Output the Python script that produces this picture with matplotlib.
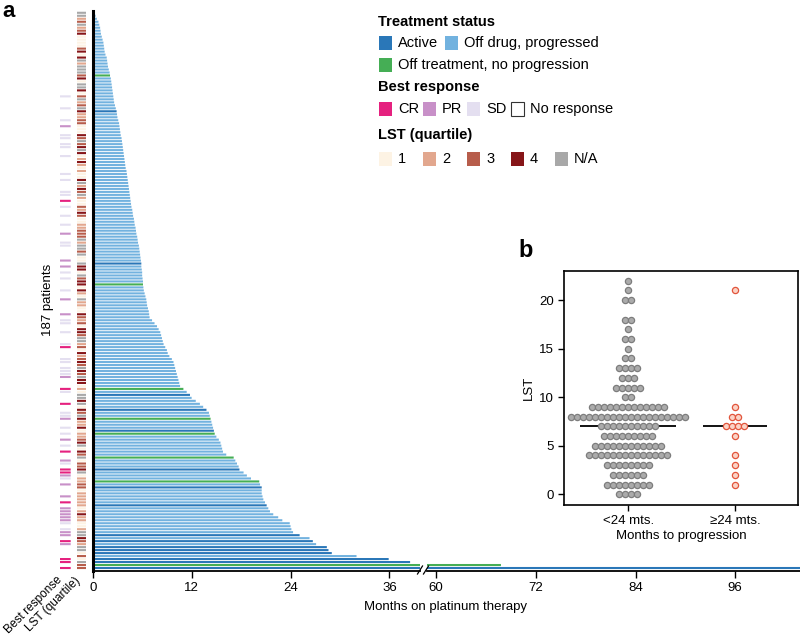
import numpy as np
import matplotlib
matplotlib.use("Agg")
from matplotlib import pyplot as plt
from matplotlib.patches import Rectangle
from matplotlib.lines import Line2D

plt.rcParams['font.family'] = ['Liberation Sans', 'DejaVu Sans']

# ---- panel a data: months on platinum therapy, one per patient (top -> bottom)
months = [
    0.2, 0.35, 0.5, 0.7, 0.8, 0.9, 0.95, 1.0, 1.1, 1.2,
    1.3, 1.35, 1.4, 1.45, 1.55, 1.7, 1.75, 1.8, 1.85, 1.95,
    2.05, 2.1, 2.2, 2.25, 2.3, 2.35, 2.4, 2.45, 2.5, 2.55,
    2.6, 2.7, 2.8, 2.9, 2.95, 3.0, 3.1, 3.2, 3.25, 3.3,
    3.35, 3.4, 3.5, 3.55, 3.6, 3.65, 3.7, 3.75, 3.8, 3.85,
    3.9, 3.95, 4.0, 4.1, 4.15, 4.2, 4.25, 4.3, 4.35, 4.4,
    4.45, 4.5, 4.55, 4.6, 4.65, 4.7, 4.8, 4.85, 4.9, 5.0,
    5.05, 5.1, 5.2, 5.25, 5.3, 5.4, 5.45, 5.5, 5.6, 5.65,
    5.7, 5.75, 5.8, 5.85, 5.9, 5.9, 5.95, 6.0, 6.0, 6.05,
    6.1, 6.1, 6.15, 6.2, 6.3, 6.4, 6.5, 6.55, 6.6, 6.7,
    6.8, 6.85, 6.9, 7.2, 7.5, 7.8, 8.0, 8.2, 8.3, 8.4,
    8.5, 8.6, 8.8, 9.0, 9.1, 9.3, 9.6, 9.8, 9.9, 10.0,
    10.1, 10.2, 10.3, 10.4, 10.5, 10.6, 11.0, 11.4, 11.8, 12.0,
    12.5, 13.0, 13.4, 13.8, 14.1, 14.2, 14.3, 14.4, 14.5, 14.6,
    14.7, 14.8, 15.0, 15.3, 15.5, 15.6, 15.7, 15.8, 16.2, 17.1,
    17.3, 17.5, 17.7, 17.8, 18.3, 18.7, 19.2, 20.2, 20.3, 20.5,
    20.5, 20.5, 20.6, 20.7, 20.9, 21.1, 21.3, 21.5, 21.9, 22.5,
    23.0, 23.9, 24.0, 24.1, 24.3, 25.1, 26.3, 26.7, 27.1, 28.4,
    28.6, 29.0, 32.0, 35.9, 38.5, 67.8, 110.0,
]
# treatment status by row: everyone else is "off drug, progressed"
active_rows = [33, 84, 128, 133, 140, 153, 159, 165, 175, 177, 179, 180, 181, 183, 184, 186]
no_prog_rows = [21, 91, 126, 136, 141, 149, 157, 185]

# best response: C = CR, P = PR, S = SD, - = no response
best = ("----------" "----------" "--------S-" "--S---S-P-" "-SS-SS--S-"
        "----S-S---" "SS-C-S--S-" "-S--P--SS-" "---P-P-S-S" "---S--P---"
        "-P-SS--S--" "-SC---SS-S" "SSP---CS--" "-C--SSP--S" "-S-P-S-C--"
        "PS-CCPS-P-" "--P-C-PPPP" "PS-SPP-CP-" "---CC-C")
# LST quartile: 1-4, n = N/A
lst_q = ("nn23n23411" "113414n2nn" "n341nn413n" "23n4223311" "143n34n412"
         "4212114n24" "3n21132431" "122333n2nn" "3n11n441n3" "441421n221"
         "143231443n" "n23142343n" "43n44121nn" "4n143n4224" "12234n143n"
         "1334n12233" "1222221242" "2112nn432n" "n131n33")

# ---- panel b data: LST score by months to progression
lst_levels = list(range(23))
count_lt24 = [4, 8, 6, 8, 14, 12, 9, 10, 20, 13, 2, 5, 3, 4, 2, 1, 2, 1, 2, 0, 2, 1, 1]
count_ge24 = [0, 1, 1, 1, 1, 0, 1, 4, 2, 1, 0, 0, 0, 0, 0, 0, 0, 0, 0, 0, 0, 1, 0]
groups = ["<24 mts.", "\u226524 mts."]

status_col = {'o': '#72b2df', 'a': '#2a77b8', 'g': '#45ae55'}
best_col = {'C': '#e5217f', 'P': '#c890c8', 'S': '#e4dff0', '-': 'none'}
lst_col = {'1': '#fdf3e4', '2': '#e2a78e', '3': '#b75d4b', '4': '#861518', 'n': '#a8a8a8'}

n = len(months)
status = ['o'] * n
for i in active_rows:
    status[i] = 'a'
for i in no_prog_rows:
    status[i] = 'g'

W, H = 800, 638
fig = plt.figure(figsize=(W / 100, H / 100), dpi=100)

ypos = np.arange(n)
ylim = (186.9, -0.7)
bot, hgt = 1 - 570.7 / H, 560 / H
bh = 0.7

axL = fig.add_axes([92.7 / W, bot, (420 - 92.7) / W, hgt])
axR = fig.add_axes([427 / W, bot, (800 - 427) / W, hgt])
bar_colors = [status_col[c] for c in status]
for ax in (axL, axR):
    bars = ax.barh(ypos, months, height=bh, color=bar_colors, linewidth=0)
    for b in bars:
        b.set_snap(False)
    ax.set_ylim(*ylim)
    ax.set_yticks([])
    ax.spines['top'].set_visible(False)
    ax.spines['right'].set_visible(False)
    ax.spines['bottom'].set_linewidth(1.3)
    ax.tick_params(axis='x', direction='out', length=5, width=1, labelsize=9.5, pad=3)
axL.set_xlim(0, 39.7)
axL.set_xticks([0, 12, 24, 36])
axL.spines['left'].set_linewidth(2.2)
axR.set_xlim(58.9, 103.8)
axR.set_xticks([60, 72, 84, 96])
axR.spines['left'].set_visible(False)

# axis break marks
for xb in (417.5, 423.5):
    fig.add_artist(Line2D([xb / W, (xb + 5) / W], [1 - 574 / H, 1 - 566 / H],
                          color='black', lw=0.9, transform=fig.transFigure))

# annotation columns
axB = fig.add_axes([60 / W, bot, 10.7 / W, hgt])
axQ = fig.add_axes([76.7 / W, bot, 9.3 / W, hgt])
for ax, codes, cmap in ((axB, best, best_col), (axQ, lst_q, lst_col)):
    cells = ax.barh(ypos, 1, height=bh, color=[cmap[c] for c in codes], linewidth=0)
    for b in cells:
        b.set_snap(False)
    ax.set_ylim(*ylim)
    ax.set_xlim(0, 1)
    ax.axis('off')

fig.text(48 / W, 1 - 300 / H, "187 patients", rotation=90, ha='center', va='center', fontsize=9.5)
fig.text(9 / W, 1 - 634 / H, "Best response", rotation=45, rotation_mode='anchor',
         ha='left', va='baseline', fontsize=8.6)
fig.text(30 / W, 1 - 632 / H, "LST (quartile)", rotation=45, rotation_mode='anchor',
         ha='left', va='baseline', fontsize=8.6)
fig.text(446 / W, 1 - 607 / H, "Months on platinum therapy", ha='center', va='center', fontsize=9.5)
fig.text(2 / W, 1 - 17 / H, "a", fontsize=16, fontweight='bold', va='baseline')

# legend
def swatch(x, y, color, edge='none'):
    fig.patches.append(Rectangle((x / W, 1 - (y + 14) / H), 13 / W, 14 / H, transform=fig.transFigure,
                                 facecolor=color, edgecolor=edge, lw=0.8))

def label(x, y, s, bold=False):
    fig.text(x / W, 1 - y / H, s, ha='left', va='center', fontsize=10.5,
             fontweight='bold' if bold else 'normal')

label(378, 21.5, "Treatment status", True)
swatch(379, 36, status_col['a']); label(398, 43, "Active")
swatch(445, 36, status_col['o']); label(464, 43, "Off drug, progressed")
swatch(379, 58, status_col['g']); label(398, 65, "Off treatment, no progression")
label(378, 87, "Best response", True)
br_items = [('C', "CR"), ('P', "PR"), ('S', "SD"), ('-', "No response")]
for k, (c, s) in enumerate(br_items):
    x = 379 + 44 * k
    if c == '-':
        swatch(x, 102, 'white', edge='#333333')
    else:
        swatch(x, 102, best_col[c])
    label(x + 19, 109, s)
label(378, 135, "LST (quartile)", True)
q_items = [('1', "1"), ('2', "2"), ('3', "3"), ('4', "4"), ('n', "N/A")]
for k, (c, s) in enumerate(q_items):
    x = 379 + 44 * k
    swatch(x, 152, lst_col[c])
    label(x + 19, 159, s)

# ---- panel b
axb = fig.add_axes([564 / W, 1 - 505 / H, 234 / W, 234 / H])
dx = 0.056
for gi, (counts, fc, ec) in enumerate([(count_lt24, '#ababab', '#7d7d7d'),
                                       (count_ge24, '#fbd3c6', '#e2553c')]):
    for v, c in zip(lst_levels, counts):
        if c == 0:
            continue
        xs = gi + (np.arange(c) - (c - 1) / 2) * dx
        axb.scatter(xs, np.full(c, v), s=20, facecolor=fc, edgecolor=ec, linewidth=0.9, zorder=3)
axb.hlines(7, -0.45, 0.45, color='black', lw=1.3, zorder=2)
axb.hlines(7, 0.7, 1.3, color='black', lw=1.3, zorder=2)
axb.set_xlim(-0.6, 1.59)
axb.set_ylim(-1.1, 23)
axb.set_xticks([0, 1])
axb.set_xticklabels(groups)
axb.set_yticks([0, 5, 10, 15, 20])
axb.tick_params(direction='out', length=4, width=1, labelsize=9.5)
for sp in axb.spines.values():
    sp.set_linewidth(1.2)
axb.set_ylabel("LST", fontsize=9.5, labelpad=3)
axb.set_xlabel("Months to progression", fontsize=9.5, labelpad=2)
fig.text(518 / W, 1 - 257 / H, "b", fontsize=17, fontweight='bold', va='baseline')

fig.savefig("out.png", dpi=100)
